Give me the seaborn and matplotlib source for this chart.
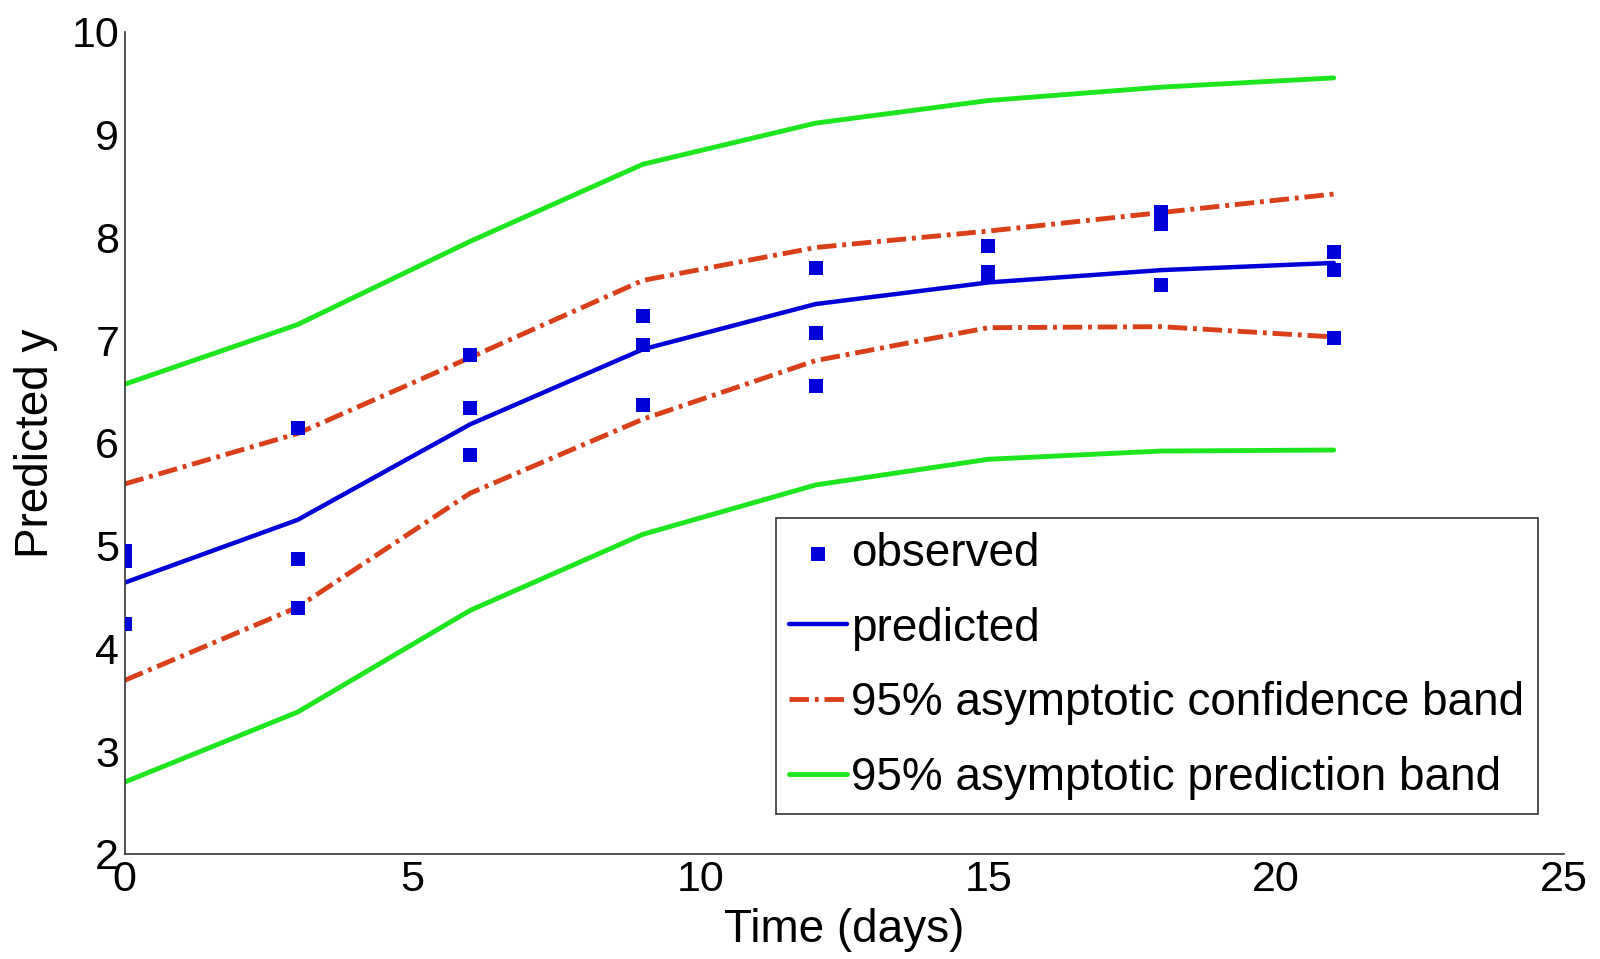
import pandas as pd
import matplotlib
matplotlib.use("Agg")
import matplotlib.pyplot as plt
import seaborn as sns

sns.set_theme(style="white")
plt.rcParams["font.family"] = ["Liberation Sans", "DejaVu Sans"]
plt.rcParams["text.color"] = "black"
plt.rcParams["axes.labelcolor"] = "black"

time = [0, 3, 6, 9, 12, 15, 18, 21]
predicted = [4.64, 5.25, 6.18, 6.91, 7.35, 7.56, 7.68, 7.75]
conf_upper = [5.60, 6.09, 6.83, 7.58, 7.90, 8.06, 8.24, 8.42]
conf_lower = [3.69, 4.40, 5.51, 6.23, 6.80, 7.12, 7.13, 7.03]
pred_upper = [6.57, 7.15, 7.96, 8.71, 9.11, 9.33, 9.46, 9.55]
pred_lower = [2.70, 3.38, 4.37, 5.11, 5.59, 5.84, 5.92, 5.93]

obs_time = [0, 0, 0, 3, 3, 3, 6, 6, 6, 9, 9, 9, 12, 12, 12,
            15, 15, 15, 18, 18, 18, 21, 21, 21]
obs_y = [4.95, 4.85, 4.24, 6.14, 4.87, 4.39, 6.85, 6.34, 5.88, 7.23, 6.95, 6.37,
         7.70, 7.07, 6.55, 7.91, 7.66, 7.62, 8.25, 8.13, 7.54, 7.86, 7.68, 7.02]

BLUE = "#0000D9"
RED = "#D9401A"
GREEN = "#1EE61E"

obs = pd.DataFrame({"t": obs_time, "y": obs_y})
fit = pd.DataFrame({"t": time, "pred": predicted, "cu": conf_upper, "cl": conf_lower,
                    "pu": pred_upper, "pl": pred_lower})

fig, ax = plt.subplots(figsize=(16, 9.59), dpi=100)
fig.subplots_adjust(left=0.078, right=0.9775, bottom=0.1095, top=0.967)

sns.scatterplot(data=obs, x="t", y="y", marker="s", s=90, color=BLUE,
                edgecolor=BLUE, linewidth=0, ax=ax, label="observed", zorder=5)
sns.lineplot(data=fit, x="t", y="pred", color=BLUE, lw=3.2, ax=ax, label="predicted")
sns.lineplot(data=fit, x="t", y="cu", color=RED, lw=3.5, ax=ax,
             label="95% asymptotic confidence band")
sns.lineplot(data=fit, x="t", y="cl", color=RED, lw=3.5, ax=ax, label="_nolegend_")
sns.lineplot(data=fit, x="t", y="pu", color=GREEN, lw=3.5, ax=ax,
             label="95% asymptotic prediction band")
sns.lineplot(data=fit, x="t", y="pl", color=GREEN, lw=3.5, ax=ax, label="_nolegend_")
for ln in ax.lines:
    if str(ln.get_color()).lower() == RED.lower():
        ln.set_dashes([4, 1.2, 0.8, 1.2])

ax.set_xlim(0, 25)
ax.set_ylim(2, 10)
ax.set_xticks([0, 5, 10, 15, 20, 25])
ax.set_yticks(range(2, 11))
ax.tick_params(direction="in", length=8, width=1, labelsize=31, pad=4,
               colors="black")
ax.set_xlabel("Time (days)", fontsize=33, labelpad=6)
ax.set_ylabel("Predicted y", fontsize=33, labelpad=10)
for side in ["top", "right"]:
    ax.spines[side].set_visible(False)
for side in ["left", "bottom"]:
    ax.spines[side].set_color("#333333")
    ax.spines[side].set_linewidth(1.2)

handles, labels = ax.get_legend_handles_labels()
leg = ax.legend(handles, labels, loc="lower right", bbox_to_anchor=(0.982, 0.049),
                fontsize=33, frameon=True, fancybox=False, edgecolor="black",
                handlelength=1.25, handletextpad=0.1, labelspacing=0.67,
                borderpad=0.3, borderaxespad=0)
leg.get_frame().set_linewidth(1.2)

fig.savefig("out.png", dpi=100)
